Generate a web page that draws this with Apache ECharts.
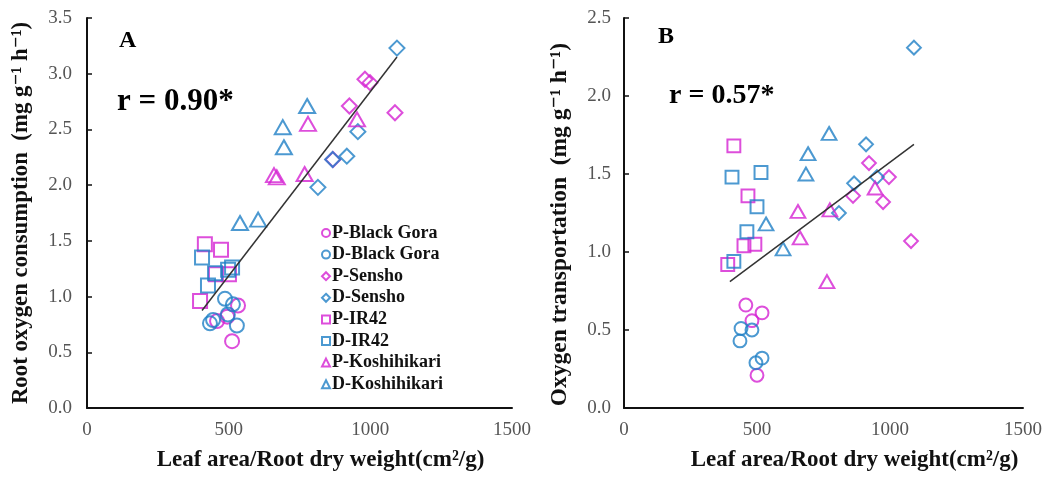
<!DOCTYPE html>
<html>
<head>
<meta charset="utf-8">
<script src="https://cdn.jsdelivr.net/npm/echarts@6/dist/echarts.min.js"></script>
<style>
  html, body { margin: 0; padding: 0; background: #fff; }
  #chart { width: 1048px; height: 477px; }
</style>
</head>
<body>
<div id="chart"></div>
<script>
// Leaf area / root dry weight (cm2/g) vs. root oxygen consumption (panel A)
// and oxygen transportation (panel B), for four rice cultivars grown under P / D.
const seriesNames = ['P-Black Gora', 'D-Black Gora', 'P-Sensho', 'D-Sensho',
                     'P-IR42', 'D-IR42', 'P-Koshihikari', 'D-Koshihikari'];

// Panel A: root oxygen consumption (mg g-1 h-1)
const pBlackGoraA = [[512, 0.60], [533, 0.92], [459, 0.78], [495, 0.82]];
const dBlackGoraA = [[487, 0.98], [515, 0.93], [445, 0.79], [434, 0.76], [497, 0.84], [529, 0.74]];
const pSenshoA    = [[981, 2.95], [999, 2.92], [926, 2.71], [1087, 2.65], [868, 2.23]];
const dSenshoA    = [[1094, 3.23], [956, 2.48], [917, 2.26], [867, 2.23], [815, 1.98]];
const pIR42A      = [[416, 1.47], [473, 1.42], [399, 0.96], [455, 1.20], [501, 1.20]];
const dIR42A      = [[406, 1.35], [512, 1.26], [427, 1.10], [452, 1.21], [498, 1.24]];
const pKoshiA     = [[780, 2.55], [953, 2.59], [660, 2.09], [670, 2.07], [768, 2.10]];
const dKoshiA     = [[777, 2.71], [691, 2.52], [695, 2.34], [540, 1.66], [604, 1.69]];
const fitA        = [[406, 0.875], [1094, 3.15]];

// Panel B: oxygen transportation (mg g-1 h-1)
const pBlackGoraB = [[458, 0.66], [519, 0.61], [481, 0.56], [500, 0.21]];
const dBlackGoraB = [[440, 0.51], [481, 0.50], [436, 0.43], [519, 0.32], [496, 0.29]];
const pSenshoB    = [[974, 1.32], [996, 1.48], [921, 1.57], [1079, 1.07], [861, 1.36]];
const dSenshoB    = [[1090, 2.31], [951, 1.48], [910, 1.69], [865, 1.44], [808, 1.25]];
const pIR42B      = [[413, 1.68], [466, 1.36], [451, 1.04], [492, 1.05], [390, 0.92]];
const dIR42B      = [[406, 1.48], [515, 1.51], [500, 1.29], [462, 1.13], [413, 0.94]];
const pKoshiB     = [[654, 1.26], [774, 1.27], [944, 1.41], [662, 1.09], [763, 0.81]];
const dKoshiB     = [[771, 1.76], [692, 1.63], [684, 1.50], [534, 1.18], [598, 1.02]];
const fitB        = [[398, 0.81], [1090, 1.69]];

const rA = 'r = 0.90*';
const rB = 'r = 0.57*';
const xTitle = 'Leaf area/Root dry weight(cm²/g)';
const yTitleA = 'Root oxygen consumption  (mg g⁻¹ h⁻¹)';
const yTitleB = 'Oxygen transportation  (mg g⁻¹ h⁻¹)';

const PINK = '#d422d2';
const BLUE = '#1f80c6';
const SERIF = '"Liberation Serif", "DejaVu Serif", serif';

const styleOf = {
  'P-Black Gora':  { symbol: 'circle',   color: PINK },
  'D-Black Gora':  { symbol: 'circle',   color: BLUE },
  'P-Sensho':      { symbol: 'diamond',  color: PINK },
  'D-Sensho':      { symbol: 'diamond',  color: BLUE },
  'P-IR42':        { symbol: 'rect',     color: PINK },
  'D-IR42':        { symbol: 'rect',     color: BLUE },
  'P-Koshihikari': { symbol: 'triangle', color: PINK },
  'D-Koshihikari': { symbol: 'triangle', color: BLUE }
};
const sizeOf = { circle: 14, diamond: 15, rect: 14, triangle: [16, 14] };

const panelA = [pBlackGoraA, dBlackGoraA, pSenshoA, dSenshoA, pIR42A, dIR42A, pKoshiA, dKoshiA];
const panelB = [pBlackGoraB, dBlackGoraB, pSenshoB, dSenshoB, pIR42B, dIR42B, pKoshiB, dKoshiB];

function scatter(name, data, idx, scale) {
  const s = styleOf[name];
  let size = sizeOf[s.symbol];
  size = Array.isArray(size) ? size.map(v => v * scale) : size * scale;
  return {
    name, type: 'scatter', xAxisIndex: idx, yAxisIndex: idx, data,
    symbol: s.symbol, symbolSize: size,
    itemStyle: { color: 'rgba(255,255,255,0)', borderColor: s.color, borderWidth: 2 },
    emphasis: { disabled: true }, z: 3
  };
}

function fitLine(data, idx) {
  return {
    type: 'line', xAxisIndex: idx, yAxisIndex: idx, data,
    symbol: 'none', lineStyle: { color: '#333', width: 1.5 }, z: 4, silent: true
  };
}

const tickLabel = { color: '#555', fontFamily: SERIF, fontSize: 19 };
const nameStyle = { color: '#111', fontFamily: SERIF, fontWeight: 'bold' };
const axisLine = { show: true, onZero: false, lineStyle: { color: '#111', width: 2 } };

function xAxis(idx, shift) {
  return {
    type: 'value', gridIndex: idx, min: 0, max: 1500, interval: 500,
    axisLine, axisTick: { show: false }, splitLine: { show: false },
    axisLabel: { ...tickLabel, margin: 13, formatter: v => String(v) },
    name: xTitle, nameLocation: 'middle', nameGap: 41,
    nameTextStyle: { ...nameStyle, fontSize: 23, padding: [0, 0, 0, shift] }
  };
}
function yAxis(idx, max, title, gap, labelMargin, shift, size) {
  return {
    type: 'value', gridIndex: idx, min: 0, max, interval: 0.5,
    axisLine, splitLine: { show: false },
    axisTick: { show: true, inside: true, length: 5, lineStyle: { color: '#111', width: 1.5 } },
    axisLabel: { ...tickLabel, margin: labelMargin, formatter: v => v.toFixed(1) },
    name: title, nameLocation: 'middle', nameGap: gap, nameRotate: 90,
    nameTextStyle: { ...nameStyle, fontSize: size, padding: [0, shift, 0, 0] }
  };
}

const series = [];
seriesNames.forEach((n, i) => series.push(scatter(n, panelA[i], 0, 1)));
seriesNames.forEach((n, i) => series.push(scatter(n, panelB[i], 1, 0.92)));
series.push(fitLine(fitA, 0));
series.push(fitLine(fitB, 1));

const chart = echarts.init(document.getElementById('chart'), null, { renderer: 'canvas' });
chart.setOption({
  animation: false,
  backgroundColor: '#fff',
  grid: [
    { left: 87, top: 18, width: 425, height: 392 },
    { left: 624, top: 18, width: 399, height: 391 }
  ],
  xAxis: [xAxis(0, 42), xAxis(1, 62)],
  yAxis: [yAxis(0, 3.5, yTitleA, 54, 15, 0, 22.8), yAxis(1, 2.5, yTitleB, 52, 13, 23, 23.5)],
  legend: {
    data: seriesNames,
    orient: 'vertical', left: 316, top: 219,
    itemWidth: 8, itemHeight: 8, itemGap: 3.6,
    itemStyle: { borderWidth: 2 },
    textStyle: { fontFamily: SERIF, fontSize: 18, fontWeight: 'bold', color: '#111', padding: [0, 0, 0, -3] },
    selectedMode: false
  },
  graphic: [
    { type: 'text', left: 119, top: 29, style: { text: 'A', font: 'bold 24px ' + SERIF, fill: '#000' } },
    { type: 'text', left: 117, top: 86, style: { text: rA, font: 'bold 31px ' + SERIF, fill: '#000' } },
    { type: 'text', left: 658, top: 25, style: { text: 'B', font: 'bold 24px ' + SERIF, fill: '#000' } },
    { type: 'text', left: 669, top: 82, style: { text: rB, font: 'bold 28px ' + SERIF, fill: '#000' } }
  ],
  series
});
</script>
</body>
</html>
